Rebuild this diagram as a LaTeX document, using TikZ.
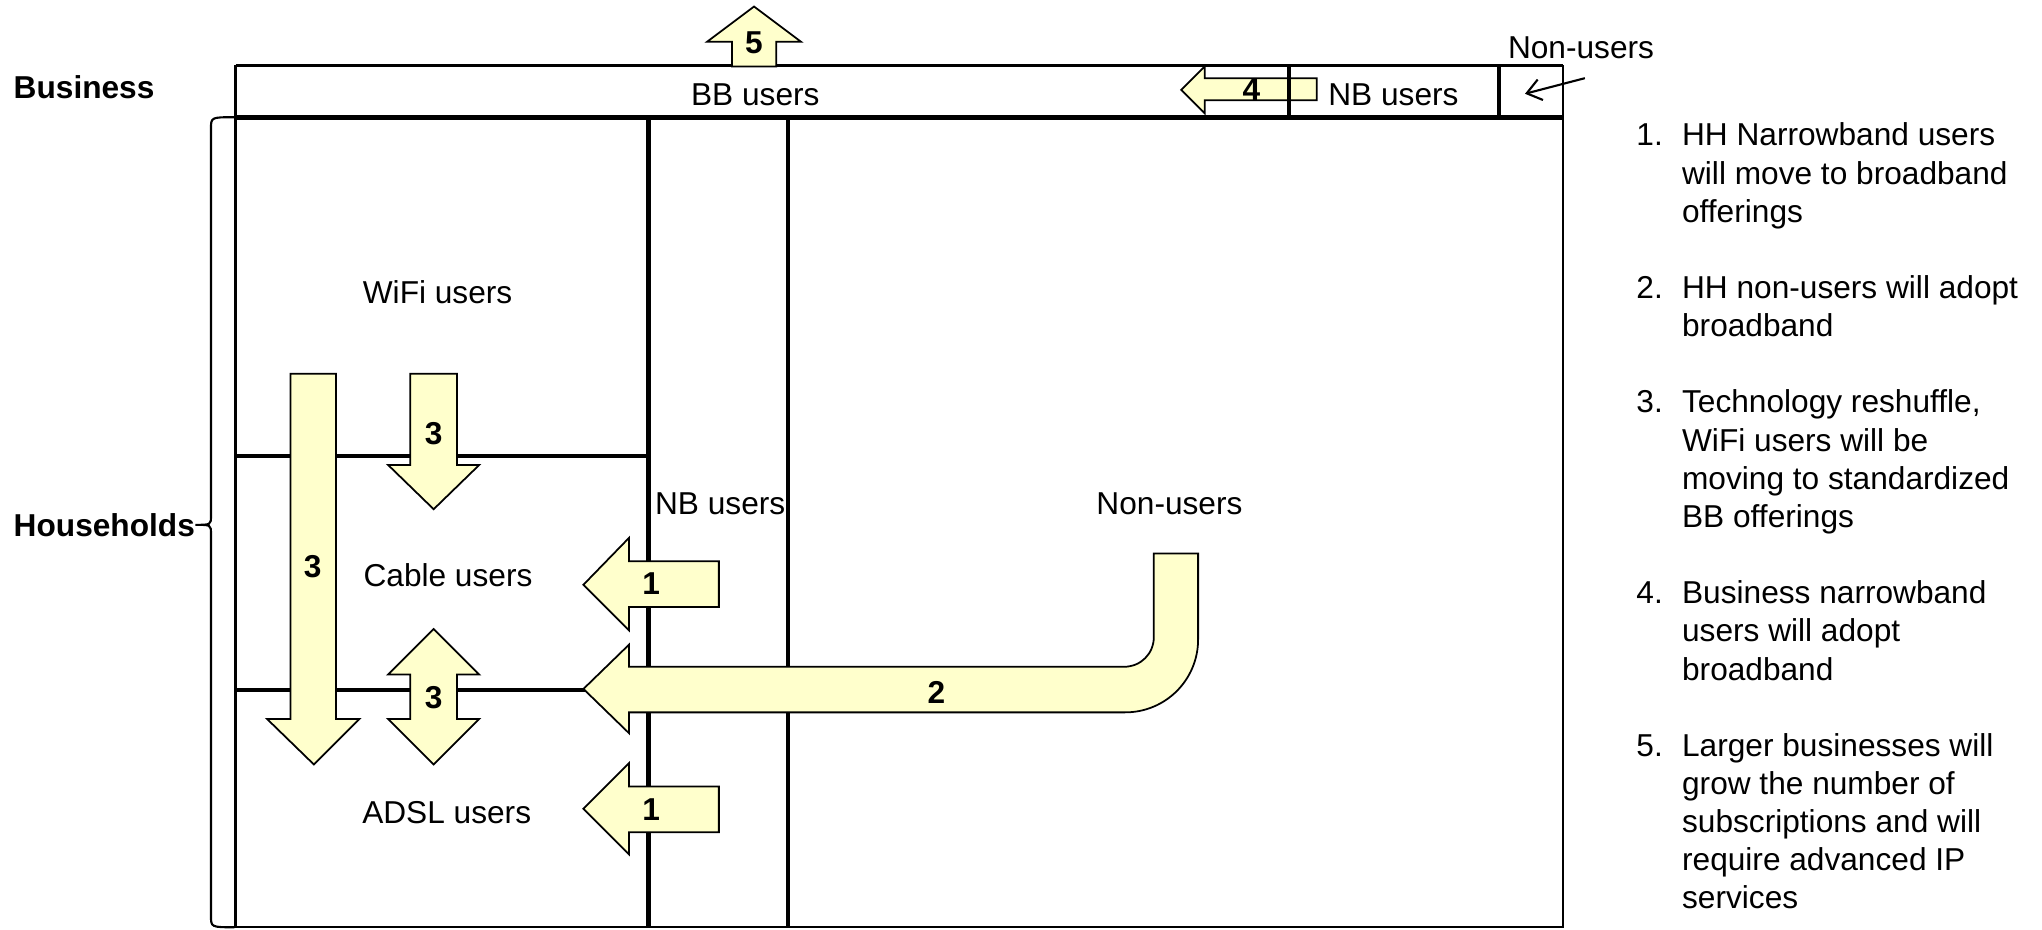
\documentclass[tikz,border=0pt]{standalone}
\usepackage{fontspec}
\setmainfont{Liberation Sans}
\usepackage{tikz}
\usetikzlibrary{arrows.meta,calc}
\usepackage{xcolor}
\definecolor{paleyellow}{RGB}{255,255,204}

\begin{document}
\begin{tikzpicture}[x=0.013023cm,y=-0.013023cm,
    every node/.style={inner sep=0pt,font=\fontsize{9}{10.85}\selectfont},
    cellline/.style={line width=1.2pt},
    edgeline/.style={line width=0.7pt},
    blockarrow/.style={fill=paleyellow,draw=black,line width=0.5pt},
    arrownum/.style={font=\fontsize{9}{10.85}\selectfont\bfseries},
    sidelabel/.style={anchor=west,font=\fontsize{9}{10.85}\selectfont\bfseries},
    pointer/.style={line width=0.6pt,-{Straight Barb[length=4pt,width=6pt]}}]
  \useasboundingbox (0,0) rectangle (1568,714);

  % business strip
  \draw[line width=0.9pt] (181,50) -- (1200,50);
  \draw[edgeline] (181,50) -- (181,90) (1200,50) -- (1200,90);
  \draw[line width=1.3pt] (181,90) -- (1200,90);
  \draw[cellline] (1151,50) -- (1151,90);

  % households grid
  \draw[edgeline] (181,90) rectangle (1200,712);
  \draw[cellline] (498,90) -- (498,712) (605,90) -- (605,712);
  \draw[cellline] (181,350) -- (498,350) (181,530) -- (498,530);

  % brace
  \draw[line width=0.6pt] (180,90) .. controls (162,90) .. (162,99) -- (162,396)
    .. controls (162,403) .. (150,403) .. controls (162,403) .. (162,410)
    -- (162,703) .. controls (162,712) .. (180,712);

  % block arrows
  \draw[blockarrow] (579,5) -- (615,32) -- (596,32) -- (596,51) -- (562,51)
    -- (562,32) -- (543,32) -- cycle;
  \draw[blockarrow] (907,69) -- (925,51) -- (925,60) -- (1011,60) -- (1011,77)
    -- (925,77) -- (925,87) -- cycle;
  \draw[cellline] (990,50) -- (990,90);
  \draw[blockarrow] (223,287) -- (258,287) -- (258,552) -- (276,552) -- (241,587)
    -- (205,552) -- (223,552) -- cycle;
  \draw[blockarrow] (315,287) -- (351,287) -- (351,357) -- (368,357) -- (333,391)
    -- (298,357) -- (315,357) -- cycle;
  \draw[blockarrow] (333,483) -- (368,518) -- (351,518) -- (351,552) -- (368,552)
    -- (333,587) -- (298,552) -- (315,552) -- (315,518) -- (298,518) -- cycle;
  \draw[blockarrow] (448,449) -- (483,413) -- (483,431) -- (552,431) -- (552,466)
    -- (483,466) -- (483,484) -- cycle;
  \draw[blockarrow] (448,621) -- (483,586) -- (483,604) -- (552,604) -- (552,639)
    -- (483,639) -- (483,656) -- cycle;
  \draw[blockarrow] (448,529) -- (483,495) -- (483,512) -- (863,512)
    .. controls (876,512) and (886,502) .. (886,489) -- (886,425) -- (920,425)
    -- (920,491) .. controls (920,522) and (895,547) .. (864,547)
    -- (483,547) -- (483,563) -- cycle;

  % arrow numbers
  \node[arrownum] (numFive) at (579,33) {5};
  \node[arrownum] (numFour) at (961,69) {4};
  \node[arrownum] (numThreeA) at (240,435) {3};
  \node[arrownum] (numThreeB) at (333,333) {3};
  \node[arrownum] (numThreeC) at (333,536) {3};
  \node[arrownum] (numOneA) at (500,448) {1};
  \node[arrownum] (numOneB) at (500,622) {1};
  \node[arrownum] (numTwo) at (719,532) {2};

  % segment labels
  \node (bizBB) at (580,73) {BB users};
  \node (bizNB) at (1070,73) {NB users};
  \node (bizNon) at (1214,37) {Non-users};
  \coordinate (nonCell) at (1171,72);
  \draw[pointer] ($(bizNon.south)+(3,14)$) -- (nonCell);
  \node (wifi) at (336,224) {WiFi users};
  \node (cable) at (344,442) {Cable users};
  \node (adsl) at (343,624) {ADSL users};
  \node (hhNB) at (553,387) {NB users};
  \node (hhNon) at (898,387) {Non-users};
  \node[sidelabel] (business) at (10,67) {Business};
  \node[sidelabel] (households) at (10,403) {Households};

  % notes
  \node[anchor=base west] (notes) at (1256,112) {%
    \begin{tabular}[t]{@{}p{13pt}@{}l@{}}
      1. & HH Narrowband users\\
         & will move to broadband\\
         & offerings\\[10.85pt]
      2. & HH non-users will adopt\\
         & broadband\\[10.85pt]
      3. & Technology reshuffle,\\
         & WiFi users will be\\
         & moving to standardized\\
         & BB offerings\\[10.85pt]
      4. & Business narrowband\\
         & users will adopt\\
         & broadband\\[10.85pt]
      5. & Larger businesses will\\
         & grow the number of\\
         & subscriptions and will\\
         & require advanced IP\\
         & services
    \end{tabular}};
\end{tikzpicture}
\end{document}
